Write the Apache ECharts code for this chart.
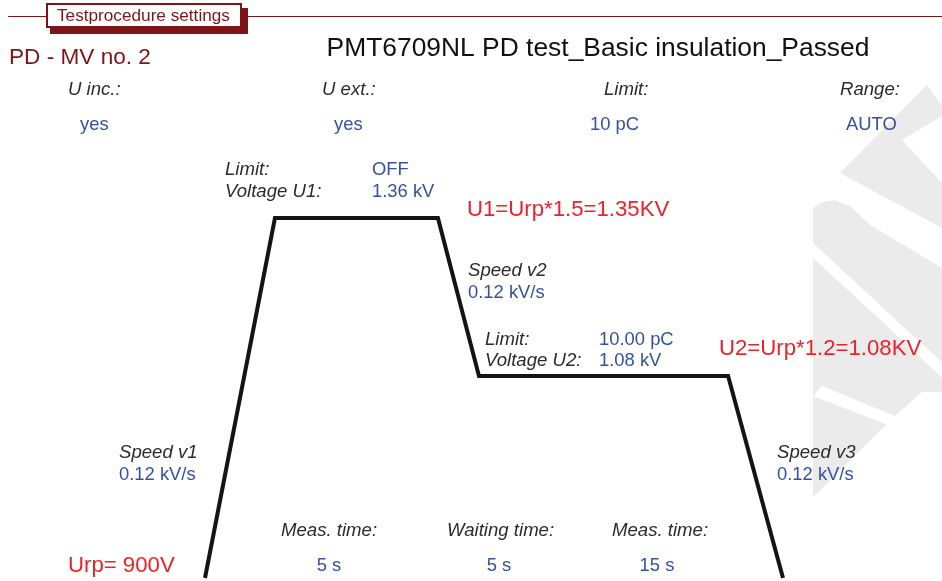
<!DOCTYPE html>
<html>
<head>
<meta charset="utf-8">
<script src="https://cdn.jsdelivr.net/npm/echarts@6/dist/echarts.min.js"></script>
<style>
html, body { margin: 0; padding: 0; background: #fff; }
#container { width: 942px; height: 581px; }
</style>
</head>
<body>
<div id="container"></div>

<script type="text/javascript">
// voltage profile, in percent of the drawn profile width / height
var profileX = [0, 12.1, 40.3, 47.4, 90.5, 100];
var profileY = [0, 100, 100, 56.1, 56.1, 0];

var headerLabels = ['U inc.:', 'U ext.:', 'Limit:', 'Range:'];
var headerValues = ['yes', 'yes', '10 pC', 'AUTO'];
var stage1Labels = ['Limit:', 'Voltage U1:'];
var stage1Values = ['OFF', '1.36 kV'];
var stage2Labels = ['Limit:', 'Voltage U2:'];
var stage2Values = ['10.00 pC', '1.08 kV'];
var speedLabels = ['Speed v1', 'Speed v2', 'Speed v3'];
var speedValues = ['0.12 kV/s', '0.12 kV/s', '0.12 kV/s'];
var timeLabels = ['Meas. time:', 'Waiting time:', 'Meas. time:'];
var timeValues = ['5 s', '5 s', '15 s'];

var DARKRED = '#7d1417';
var BLUE = '#3352a0';
var RED = '#ec2229';
var GRAY = '#2b2b2b';
var FONT = 'Liberation Sans, Arial, sans-serif';

function txt(s, x, y, color, size, italic, align) {
    return {
        type: 'text', z: 10,
        style: {
            text: s, x: x, y: y,
            fill: color,
            font: (italic ? 'italic ' : '') + size + 'px ' + FONT,
            textAlign: align || 'left',
            textVerticalAlign: 'middle'
        }
    };
}
function poly(pts, fill, z) {
    return { type: 'polygon', z: z, shape: { points: pts }, style: { fill: fill } };
}

var data = [];
for (var i = 0; i < profileX.length; i++) {
    data.push([profileX[i], profileY[i]]);
}

var wm = '#ebebeb';
var graphics = [
    // watermark (partly visible logo at the right edge)
    poly([[927, 85], [942, 106], [942, 116], [902, 140], [942, 183], [942, 228], [840, 173]], wm, 0),
    poly([[813, 208], [822, 202], [835, 200], [850, 206], [870, 225], [942, 268], [942, 392], [922, 392], [895, 416], [888, 423], [813, 497]], wm, 0),
    poly([[813, 243], [880, 305], [874, 314], [813, 258]], '#fff', 1),
    poly([[866, 306], [873, 299], [942, 362], [942, 378]], '#fff', 1),
    poly([[822, 386], [895, 416], [888, 425], [813, 396]], '#fff', 1),

    // header bar
    { type: 'line', z: 5, shape: { x1: 8, y1: 16.5, x2: 46, y2: 16.5 }, style: { stroke: DARKRED, lineWidth: 1.2 } },
    { type: 'line', z: 5, shape: { x1: 248, y1: 16.5, x2: 942, y2: 16.5 }, style: { stroke: DARKRED, lineWidth: 1.2 } },
    { type: 'rect', z: 5, shape: { x: 50, y: 8, width: 198, height: 26 }, style: { fill: DARKRED } },
    { type: 'rect', z: 6, shape: { x: 47, y: 4, width: 194, height: 23 }, style: { fill: '#fff', stroke: DARKRED, lineWidth: 2 } },
    txt('Testprocedure settings', 57, 16, DARKRED, 17.2, false),

    txt('PD - MV no. 2', 9, 58, DARKRED, 22.6, false),
    txt('PMT6709NL PD test_Basic insulation_Passed', 598, 49, '#111', 26.4, false, 'center'),

    txt('U1=Urp*1.5=1.35KV', 467, 210, RED, 22.2, false),
    txt('U2=Urp*1.2=1.08KV', 719, 349, RED, 22.2, false),
    txt('Urp= 900V', 68, 566, RED, 22.2, false)
];

var hx = [68, 322, 604, 840];
var vx = [80, 334, 590, 846];
for (var i = 0; i < headerLabels.length; i++) {
    graphics.push(txt(headerLabels[i], hx[i], 90, GRAY, 18.6, true));
    graphics.push(txt(headerValues[i], vx[i], 125, BLUE, 18.4, false));
}
for (var i = 0; i < 2; i++) {
    graphics.push(txt(stage1Labels[i], 225, 169.5 + i * 22, GRAY, 18.6, true));
    graphics.push(txt(stage1Values[i], 372, 169.5 + i * 22, BLUE, 18.4, false));
    graphics.push(txt(stage2Labels[i], 485, 339.5 + i * 21, GRAY, 18.6, true));
    graphics.push(txt(stage2Values[i], 599, 339.5 + i * 21, BLUE, 18.4, false));
}
var sx = [119, 468, 777];
var sy = [453, 271, 453];
for (var i = 0; i < 3; i++) {
    graphics.push(txt(speedLabels[i], sx[i], sy[i], GRAY, 18.6, true));
    graphics.push(txt(speedValues[i], sx[i], sy[i] + 22, BLUE, 18.4, false));
}
var tx = [281, 447, 612];
var tvx = [329, 499, 657];
for (var i = 0; i < 3; i++) {
    graphics.push(txt(timeLabels[i], tx[i], 531, GRAY, 18.6, true));
    graphics.push(txt(timeValues[i], tvx[i], 566, BLUE, 18.4, false, 'center'));
}

var dom = document.getElementById("container");
var myChart = echarts.init(dom);
var option;

option = {
    animation: false,
    backgroundColor: '#fff',
    grid: { left: 205, top: 218, width: 578, height: 360 },
    xAxis: { type: 'value', min: 0, max: 100, show: false },
    yAxis: { type: 'value', min: 0, max: 100, show: false },
    graphic: graphics,
    series: [{
        type: 'line',
        data: data,
        symbol: 'none',
        clip: false,
        z: 3,
        lineStyle: { color: '#141414', width: 4, join: 'miter', cap: 'butt' }
    }]
};

if (option && typeof option === 'object') {
    myChart.setOption(option);
}
</script>
</body>
</html>
